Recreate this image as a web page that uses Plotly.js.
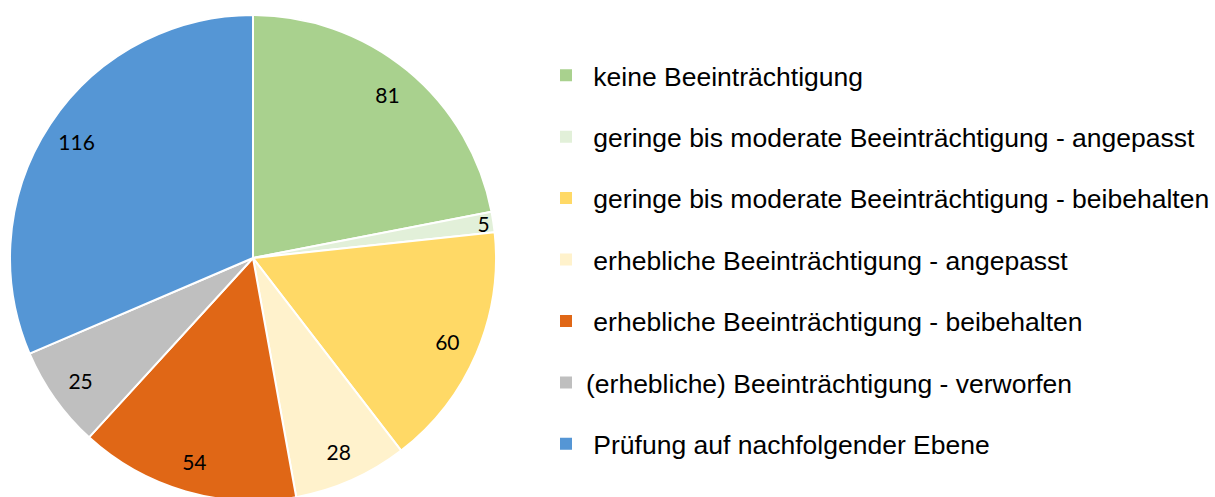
<!DOCTYPE html>
<html><head><meta charset="utf-8">
<script src="https://cdn.plot.ly/plotly-3.0.1.min.js"></script>
<style>html,body{margin:0;padding:0;overflow:hidden;background:#fff}</style>
</head><body>
<div id="chart" style="width:1215px;height:504px"></div>
<script>
const labels = [
  "keine Beeinträchtigung",
  "geringe bis moderate Beeinträchtigung - angepasst",
  "geringe bis moderate Beeinträchtigung - beibehalten",
  "erhebliche Beeinträchtigung - angepasst",
  "erhebliche Beeinträchtigung - beibehalten",
  "(erhebliche) Beeinträchtigung - verworfen",
  "Prüfung auf nachfolgender Ebene"
];
// legend entries as shown (the original has a leading space on all but one)
const legendNames = [
  "\u00A0keine Beeinträchtigung",
  "\u00A0geringe bis moderate Beeinträchtigung - angepasst",
  "\u00A0geringe bis moderate Beeinträchtigung - beibehalten",
  "\u00A0erhebliche Beeinträchtigung - angepasst",
  "\u00A0erhebliche Beeinträchtigung - beibehalten",
  "(erhebliche) Beeinträchtigung - verworfen",
  "\u00A0Prüfung auf nachfolgender Ebene"
];
const values = [81, 5, 60, 28, 54, 25, 116];
const colors = ["#A9D18E", "#E2F0D9", "#FFD966", "#FFF2CC", "#E06716", "#BFBFBF", "#5596D5"];

const W = 1215;
const dom = {x: [10 / W, 496 / W], y: [0, 1]};
const traces = [{
  type: "pie",
  labels: labels,
  values: values,
  sort: false,
  direction: "clockwise",
  rotation: 0,
  marker: {colors: colors, line: {color: "#ffffff", width: 2}},
  textinfo: "none",
  domain: dom,
  showlegend: false,
  hoverinfo: "label+value"
}, {
  // transparent ring carrying the value labels near the rim
  type: "pie",
  labels: labels,
  values: values,
  sort: false,
  direction: "clockwise",
  rotation: 0,
  hole: 0.74,
  marker: {colors: labels.map(() => "rgba(0,0,0,0)"), line: {width: 0}},
  textinfo: "value",
  textposition: "inside",
  insidetextorientation: "horizontal",
  textfont: {family: "Lato, 'Open Sans', sans-serif", size: 21, color: "#000000"},
  domain: dom,
  showlegend: false,
  hoverinfo: "skip"
}];
labels.forEach((lab, i) => {
  traces.push({
    type: "scatter", mode: "markers",
    x: [null], y: [null],
    name: legendNames[i],
    legendgroup: "g" + i,
    marker: {symbol: "square", size: 11, color: colors[i]},
    showlegend: true
  });
});

const layout = {
  width: 1215, height: 504,
  margin: {l: 0, r: 0, t: 15, b: 3},
  paper_bgcolor: "#ffffff",
  plot_bgcolor: "#ffffff",
  xaxis: {visible: false, domain: [0.99, 1]},
  yaxis: {visible: false},
  showlegend: true,
  uniformtext: {minsize: 21, mode: "show"},
  legend: {
    x: 546 / W, xanchor: "left",
    y: 0.925, yanchor: "top",
    font: {family: "'Liberation Sans', Arial, sans-serif", size: 26.5, color: "#000000"},
    tracegroupgap: 24,
    itemsizing: "constant",
    bgcolor: "rgba(0,0,0,0)"
  }
};
Plotly.newPlot("chart", traces, layout, {displayModeBar: false, staticPlot: true});
</script>
</body></html>
